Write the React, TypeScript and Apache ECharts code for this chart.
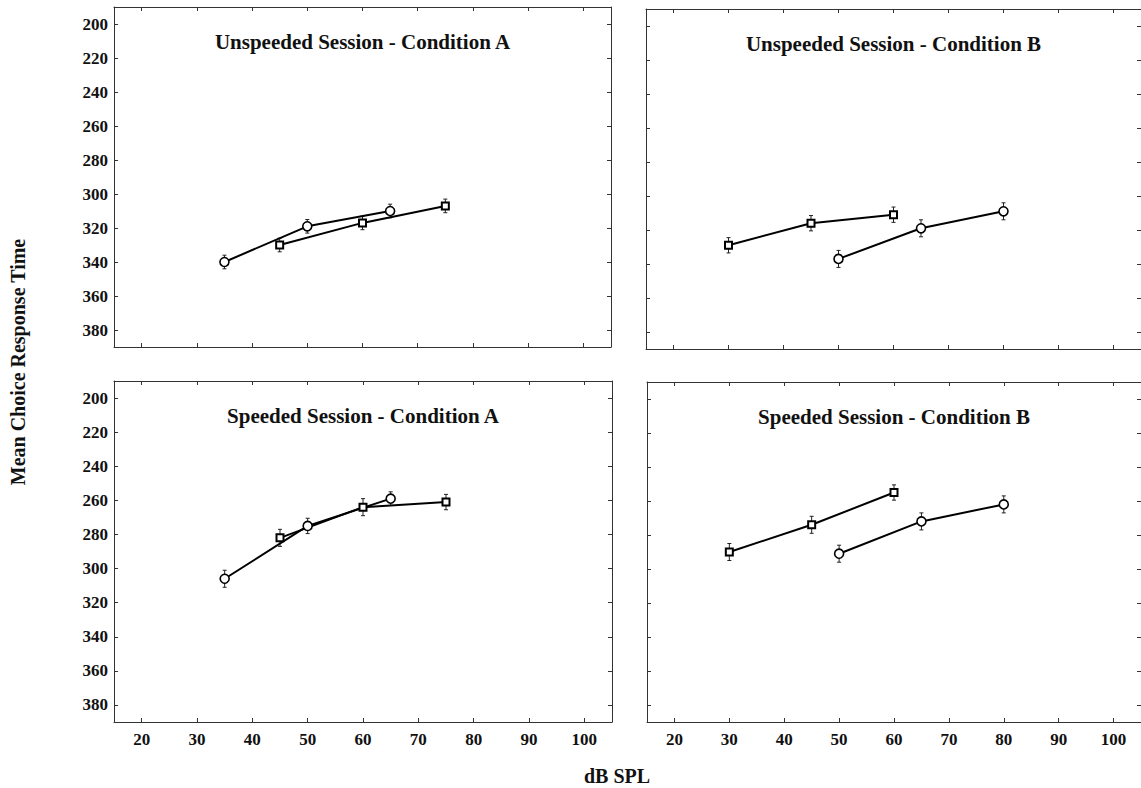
import React, { useEffect, useRef } from "react";
import * as echarts from "echarts";

// ---- tick labels ----
const xTicks = [20, 30, 40, 50, 60, 70, 80, 90, 100];
const yTicks = [200, 220, 240, 260, 280, 300, 320, 340, 360, 380];

// ---- panel titles ----
const panelTitles = [
  "Unspeeded Session - Condition A",
  "Unspeeded Session - Condition B",
  "Speeded Session - Condition A",
  "Speeded Session - Condition B",
];

// ---- Unspeeded, Condition A ----
const uaCircleX = [35, 50, 65];
const uaCircleY = [340, 319, 310];
const uaCircleErr = [4, 4, 4];
const uaSquareX = [45, 60, 75];
const uaSquareY = [330, 317, 307];
const uaSquareErr = [4, 4, 4];

// ---- Unspeeded, Condition B ----
const ubSquareX = [30, 45, 60];
const ubSquareY = [329, 316, 311];
const ubSquareErr = [4.5, 4.5, 4.5];
const ubCircleX = [50, 65, 80];
const ubCircleY = [337, 319, 309];
const ubCircleErr = [5, 5, 5];

// ---- Speeded, Condition A ----
const saCircleX = [35, 50, 65];
const saCircleY = [306, 275, 259];
const saCircleErr = [5, 4.5, 4];
const saSquareX = [45, 60, 75];
const saSquareY = [282, 264, 261];
const saSquareErr = [5, 5, 4.5];

// ---- Speeded, Condition B ----
const sbSquareX = [30, 45, 60];
const sbSquareY = [290, 274, 255];
const sbSquareErr = [5, 5, 4.5];
const sbCircleX = [50, 65, 80];
const sbCircleY = [291, 272, 262];
const sbCircleErr = [5, 5, 5];

const panelData = [
  { cx: uaCircleX, cy: uaCircleY, ce: uaCircleErr, sx: uaSquareX, sy: uaSquareY, se: uaSquareErr },
  { cx: ubCircleX, cy: ubCircleY, ce: ubCircleErr, sx: ubSquareX, sy: ubSquareY, se: ubSquareErr },
  { cx: saCircleX, cy: saCircleY, ce: saCircleErr, sx: saSquareX, sy: saSquareY, se: saSquareErr },
  { cx: sbCircleX, cy: sbCircleY, ce: sbCircleErr, sx: sbSquareX, sy: sbSquareY, se: sbSquareErr },
];

// layout (pixels)
const grids = [
  { left: 114, top: 7, width: 497, height: 340 },
  { left: 646, top: 9, width: 503, height: 340 },
  { left: 114, top: 381, width: 498, height: 341 },
  { left: 647, top: 382, width: 502, height: 340 },
];

const FONT = "'Liberation Serif', 'Times New Roman', serif";
const AX = "#333";

export default function App() {
  const ref = useRef<HTMLDivElement>(null);
  useEffect(() => {
    if (!ref.current) return;
    const chart = echarts.init(ref.current, null, { renderer: "svg" });

    const xAxis: any[] = [];
    const yAxis: any[] = [];
    const series: any[] = [];
    const graphic: any[] = [];

    const labelStyle = {
      fontFamily: FONT,
      fontWeight: "bold",
      fontSize: 17,
      color: "#111",
    };

    grids.forEach((g, i) => {
      const showX = i >= 2;
      const showY = i % 2 === 0;
      const common = {
        gridIndex: i,
        type: "value",
        axisLine: { show: true, onZero: false, lineStyle: { color: AX, width: 1 } },
        splitLine: { show: false },
      };
      xAxis.push({
        ...common,
        min: 15,
        max: 105,
        position: "bottom",
        axisTick: { show: true, inside: true, length: 4, customValues: xTicks, lineStyle: { color: AX } },
        axisLabel: { show: showX, customValues: xTicks, margin: 9, ...labelStyle },
      });
      xAxis.push({
        ...common,
        min: 15,
        max: 105,
        position: "top",
        axisTick: { show: true, inside: true, length: 4, customValues: xTicks, lineStyle: { color: AX } },
        axisLabel: { show: false, customValues: xTicks },
      });
      yAxis.push({
        ...common,
        min: 190,
        max: 390,
        inverse: true,
        position: "left",
        axisTick: { show: true, inside: true, length: 4, customValues: yTicks, lineStyle: { color: AX } },
        axisLabel: { show: showY, customValues: yTicks, margin: 6, ...labelStyle },
      });
      yAxis.push({
        ...common,
        min: 190,
        max: 390,
        inverse: true,
        position: "right",
        axisTick: { show: true, inside: true, length: 4, customValues: yTicks, lineStyle: { color: AX } },
        axisLabel: { show: false, customValues: yTicks },
      });

      const d = panelData[i];
      const xi = i * 2;
      const yi = i * 2;
      const errSeries = (xs: number[], ys: number[], es: number[]) => ({
        type: "custom",
        xAxisIndex: xi,
        yAxisIndex: yi,
        z: 1,
        silent: true,
        encode: { x: 0, y: 1 },
        data: xs.map((x, k) => [x, ys[k], es[k]]),
        renderItem: (_p: any, api: any) => {
          const x = api.value(0);
          const y = api.value(1);
          const e = api.value(2);
          const a = api.coord([x, y - e]);
          const b = api.coord([x, y + e]);
          const cap = 2;
          const st = { stroke: "#222", lineWidth: 1 };
          return {
            type: "group",
            children: [
              { type: "line", shape: { x1: a[0], y1: a[1], x2: b[0], y2: b[1] }, style: st },
              { type: "line", shape: { x1: a[0] - cap, y1: a[1], x2: a[0] + cap, y2: a[1] }, style: st },
              { type: "line", shape: { x1: b[0] - cap, y1: b[1], x2: b[0] + cap, y2: b[1] }, style: st },
            ],
          };
        },
      });
      series.push(errSeries(d.cx, d.cy, d.ce));
      series.push(errSeries(d.sx, d.sy, d.se));
      series.push({
        type: "line",
        xAxisIndex: xi,
        yAxisIndex: yi,
        z: 3,
        data: d.cx.map((x, k) => [x, d.cy[k]]),
        symbol: "circle",
        symbolSize: 9,
        showAllSymbol: true,
        lineStyle: { color: "#000", width: 2 },
        itemStyle: { color: "#fff", borderColor: "#000", borderWidth: 1.6 },
      });
      series.push({
        type: "line",
        xAxisIndex: xi,
        yAxisIndex: yi,
        z: 3,
        data: d.sx.map((x, k) => [x, d.sy[k]]),
        symbol: "rect",
        symbolSize: 7,
        showAllSymbol: true,
        lineStyle: { color: "#000", width: 2 },
        itemStyle: { color: "#fff", borderColor: "#000", borderWidth: 2 },
      });

      graphic.push({
        type: "text",
        x: g.left + g.width / 2 - (i % 2 === 1 ? 4 : 0),
        y: g.top + 35,
        style: {
          text: panelTitles[i],
          fontFamily: FONT,
          fontWeight: "bold",
          fontSize: 21,
          fill: "#111",
          align: "center",
          verticalAlign: "middle",
        },
      });
    });

    graphic.push({
      type: "text",
      x: 18,
      y: 362,
      rotation: Math.PI / 2,
      style: {
        text: "Mean Choice Response Time",
        fontFamily: FONT,
        fontWeight: "bold",
        fontSize: 20,
        fill: "#111",
        align: "center",
        verticalAlign: "middle",
      },
    });
    graphic.push({
      type: "text",
      x: 617,
      y: 776,
      style: {
        text: "dB SPL",
        fontFamily: FONT,
        fontWeight: "bold",
        fontSize: 20,
        fill: "#111",
        align: "center",
        verticalAlign: "middle",
      },
    });

    chart.setOption({
      animation: false,
      backgroundColor: "#fff",
      grid: grids.map((g) => ({ ...g, containLabel: false, show: false })),
      xAxis,
      yAxis,
      series,
      graphic,
    });
    return () => chart.dispose();
  }, []);

  return (
    <div
      ref={ref}
      style={{ position: "fixed", left: 0, top: 0, width: 1141, height: 788, overflow: "hidden" }}
    />
  );
}
